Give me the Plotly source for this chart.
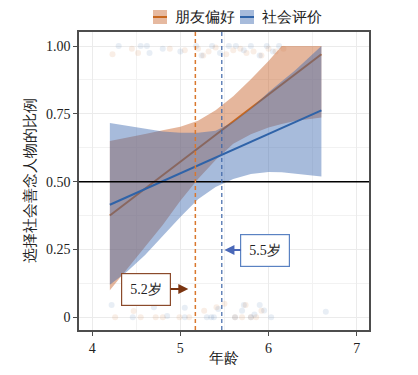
import plotly.graph_objects as go

# ---------------- data ----------------
series_names = ["朋友偏好", "社会评价"]
x_ticks = [4, 5, 6, 7]
y_ticks = [0, 0.25, 0.5, 0.75, 1.0]
y_tick_labels = ["0", "0.25", "0.50", "0.75", "1.00"]

band_x = [4.2, 4.4, 4.6, 4.8, 5.0, 5.2, 5.4, 5.6, 5.8, 6.0, 6.15, 6.3, 6.45, 6.6]
friend_upper = [0.650, 0.662, 0.676, 0.690, 0.703, 0.725, 0.763, 0.815, 0.878, 0.945, 1.0, 1.0, 1.0, 1.0]
friend_lower = [0.100, 0.180, 0.260, 0.340, 0.430, 0.510, 0.580, 0.640, 0.675, 0.700, 0.713, 0.724, 0.731, 0.737]
social_upper = [0.716, 0.705, 0.694, 0.685, 0.680, 0.680, 0.688, 0.720, 0.770, 0.830, 0.870, 0.910, 0.955, 1.0]
social_lower = [0.120, 0.170, 0.230, 0.300, 0.370, 0.435, 0.480, 0.510, 0.528, 0.536, 0.535, 0.531, 0.525, 0.519]

line_x = [4.2, 6.6]
friend_line = [0.375, 0.970]
social_line = [0.415, 0.763]

friend_cross = 5.17
social_cross = 5.47
friend_label = "5.2岁"
social_label = "5.5岁"

# raw (jittered) observations
friend_pts_x = [4.23, 4.45, 4.52, 4.88, 5.05, 5.2, 5.26, 5.32, 5.4, 5.52, 5.6, 5.68, 5.75, 5.83, 5.92, 6.0, 6.08, 6.17,
                4.26, 4.47, 4.55, 4.72, 4.8, 4.99, 5.1, 5.27, 5.41, 5.5, 5.62, 5.7, 5.74, 5.8, 5.86, 5.92]
friend_pts_y = [0.97, 0.99, 0.975, 0.99, 0.985, 0.99, 0.965, 0.98, 0.995, 0.97, 0.985, 0.99, 0.975, 0.98, 0.965, 0.99, 0.98, 0.99,
                0.0, 0.023, 0.0, 0.0, 0.0, 0.0, 0.0, 0.024, 0.037, 0.05, 0.0, 0.0, 0.045, 0.0, 0.0, 0.024]
social_pts_x = [4.3, 4.55, 4.62, 4.65, 4.8, 5.0, 5.18, 5.24, 5.36, 5.45, 5.55, 5.63, 5.72, 5.8, 5.9, 5.98, 6.05, 6.12,
                4.22, 4.46, 4.7, 4.85, 5.05, 5.05, 5.3, 5.35, 5.38, 5.43, 5.62, 5.7, 5.72, 5.8, 5.84, 5.9, 5.95, 6.03, 6.65]
social_pts_y = [1.0, 1.0, 1.0, 0.975, 0.99, 0.98, 1.0, 0.965, 1.0, 0.975, 1.0, 1.0, 0.985, 1.0, 0.965, 1.0, 0.98, 1.0,
                0.045, 0.0, 0.037, 0.005, 0.0, 0.035, 0.0, 0.0, 0.0, 0.03, 0.0, 0.024, 0.045, 0.0, 0.01, 0.045, 0.025, 0.0, 0.02]

# ---------------- style ----------------
ORANGE = "#c8671e"
BLUE = "#2f63a8"
ORANGE_FILL = "rgba(200,100,45,0.47)"
BLUE_FILL = "rgba(60,105,175,0.45)"
FONT = "Liberation Serif"
FRAME = "#4d4d4d"

fig = go.Figure()

# jittered points
fig.add_trace(go.Scatter(x=friend_pts_x, y=friend_pts_y, mode="markers",
                         marker=dict(size=6, color=ORANGE, opacity=0.11), showlegend=False, hoverinfo="skip"))
fig.add_trace(go.Scatter(x=social_pts_x, y=social_pts_y, mode="markers",
                         marker=dict(size=6, color=BLUE, opacity=0.11), showlegend=False, hoverinfo="skip"))

# friend ribbon + line
fig.add_trace(go.Scatter(x=band_x + band_x[::-1], y=friend_upper + friend_lower[::-1],
                         fill="toself", fillcolor=ORANGE_FILL, line=dict(width=0), mode="lines",
                         showlegend=False, hoverinfo="skip"))
fig.add_trace(go.Scatter(x=line_x, y=friend_line, mode="lines", line=dict(color=ORANGE, width=2),
                         showlegend=False))
# social ribbon + line
fig.add_trace(go.Scatter(x=band_x + band_x[::-1], y=social_upper + social_lower[::-1],
                         fill="toself", fillcolor=BLUE_FILL, line=dict(width=0), mode="lines",
                         showlegend=False, hoverinfo="skip"))
fig.add_trace(go.Scatter(x=line_x, y=social_line, mode="lines", line=dict(color=BLUE, width=2),
                         showlegend=False))

shapes = []
# 0.5 reference line
shapes.append(dict(type="line", xref="paper", yref="y", x0=0, x1=1, y0=0.5, y1=0.5,
                   line=dict(color="black", width=1.5)))
# crossing lines
shapes.append(dict(type="line", xref="x", yref="paper", x0=friend_cross, x1=friend_cross, y0=0, y1=1,
                   line=dict(color="#d9782e", width=1.5, dash="4px,3px")))
shapes.append(dict(type="line", xref="x", yref="paper", x0=social_cross, x1=social_cross, y0=0, y1=1,
                   line=dict(color="#3f67a8", width=1.2, dash="4px,3px")))

# page-pixel -> paper conversion (plot area spans x 79..369, y 32..330 on the page)
W, H, L, T = 290.0, 298.0, 79.0, 32.0
def px(xp):
    return (xp - L) / W
def py(yp):
    return (T + H - yp) / H

legend_items = [(153, ORANGE, "rgba(200,100,45,0.45)", series_names[0]),
                (240, BLUE, "rgba(60,105,175,0.45)", series_names[1])]
annotations = []
for x0, lc, fc, name in legend_items:
    shapes.append(dict(type="rect", xref="paper", yref="paper", x0=px(x0), x1=px(x0 + 14),
                       y0=py(24), y1=py(10), fillcolor=fc, line=dict(width=0)))
    shapes.append(dict(type="line", xref="paper", yref="paper", x0=px(x0), x1=px(x0 + 14),
                       y0=py(17), y1=py(17), line=dict(color=lc, width=2)))
    annotations.append(dict(xref="paper", yref="paper", x=px(x0 + 20), y=py(17), text=name,
                            showarrow=False, xanchor="left", yanchor="middle",
                            font=dict(family=FONT, size=15, color="#222")))

# axis titles
annotations.append(dict(xref="paper", yref="paper", x=px(30), y=0.5, text="选择社会善念人物的比例",
                        textangle=-90, showarrow=False, xanchor="center", yanchor="middle",
                        font=dict(family=FONT, size=15, color="#222")))
annotations.append(dict(xref="paper", yref="paper", x=0.5, y=py(358), text="年龄",
                        showarrow=False, xanchor="center", yanchor="middle",
                        font=dict(family=FONT, size=15, color="#222")))

# callouts
annotations.append(dict(x=5.5, y=0.248, xref="x", yref="y", text=social_label, showarrow=True,
                        ax=41, ay=0, arrowhead=2, arrowsize=1, arrowwidth=2, arrowcolor="#4a68b8",
                        bgcolor="white", bordercolor="#5a82c2", borderwidth=1.2, borderpad=8,
                        font=dict(family=FONT, size=14, color="#222"), standoff=0))
annotations.append(dict(x=5.09, y=0.104, xref="x", yref="y", text=friend_label, showarrow=True,
                        ax=-42, ay=0, arrowhead=2, arrowsize=1, arrowwidth=2, arrowcolor="#7a3410",
                        bgcolor="white", bordercolor="#8b4a2b", borderwidth=1.2, borderpad=8,
                        font=dict(family=FONT, size=14, color="#222"), standoff=0))

# page body has an 8px offset: size the figure so the plot area lands at page px 79..369 / 32..330
fig.update_layout(
    width=410, height=367,
    margin=dict(l=71, r=49, t=24, b=45),
    paper_bgcolor="white", plot_bgcolor="white",
    showlegend=False,
    shapes=shapes, annotations=annotations,
    font=dict(family=FONT, size=14, color="#222"),
)
fig.update_xaxes(range=[3.85, 7.14], tickvals=x_ticks, showgrid=True, gridcolor="#ebebeb", gridwidth=1,
                 minor=dict(dtick=0.5, tick0=0, showgrid=True, gridcolor="#f2f2f2", gridwidth=1),
                 showline=True, linecolor=FRAME, linewidth=1.5, mirror=True,
                 ticks="outside", ticklen=4, tickcolor=FRAME, zeroline=False,
                 tickfont=dict(family=FONT, size=14, color="#222"))
fig.update_yaxes(range=[-0.047, 1.052], tickvals=y_ticks, ticktext=y_tick_labels, showgrid=True,
                 gridcolor="#ebebeb", gridwidth=1,
                 minor=dict(dtick=0.125, tick0=0, showgrid=True, gridcolor="#f2f2f2", gridwidth=1),
                 showline=True, linecolor=FRAME, linewidth=1.5, mirror=True,
                 ticks="outside", ticklen=4, tickcolor=FRAME, zeroline=False,
                 tickfont=dict(family=FONT, size=14, color="#222"))

fig.write_html("out.html")
